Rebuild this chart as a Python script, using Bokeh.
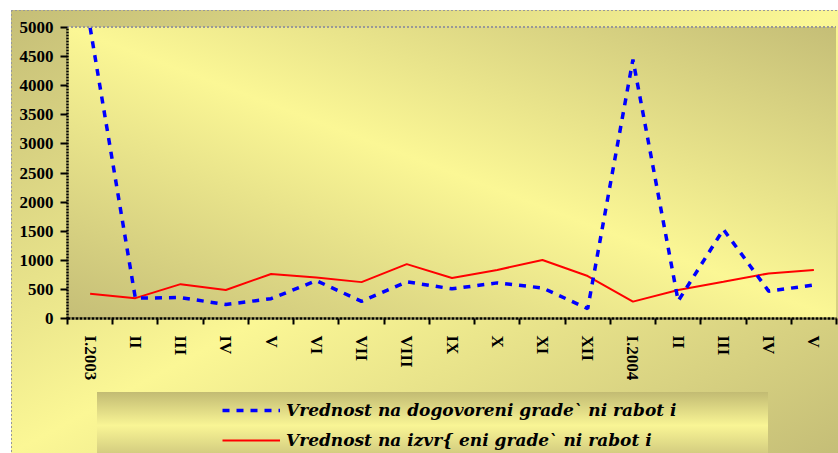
from bokeh.plotting import figure
from bokeh.layouts import column
from bokeh.models import Range1d, FixedTicker, Legend, LegendItem
from bokeh.embed import file_html
from bokeh.resources import INLINE

# ---- data ----
months = ["I.2003", "II", "III", "IV", "V", "VI", "VII", "VIII", "IX", "X", "XI", "XII",
          "I.2004", "II", "III", "IV", "V"]
dogovoreni = [5000, 350, 360, 240, 340, 650, 295, 630, 510, 612, 525, 170,
              4450, 300, 1530, 470, 575]
izvrseni = [425, 350, 590, 490, 765, 705, 625, 935, 695, 835, 1005, 730,
            290, 490, 630, 775, 835]
y_ticks = [0, 500, 1000, 1500, 2000, 2500, 3000, 3500, 4000, 4500, 5000]
label_dog = "Vrednost na dogovoreni grade` ni rabot i"
label_izv = "Vrednost na izvr{ eni grade` ni rabot i"

x = list(range(1, len(months) + 1))

BLUE = dict(line_color="#0000FF", line_width=3.5, line_dash="7 7")
RED = dict(line_color="#FF0000", line_width=2)

DARK = "#C5BE77"
LIGHT = "#FBF795"
bg = ", ".join([
    "repeating-linear-gradient(to right, #999 0 2px, transparent 2px 4px) 67px 26px / 769px 2px no-repeat",
    "repeating-linear-gradient(to right, #999 0 2px, transparent 2px 4px) 11px 10px / 827px 1px no-repeat",
    "repeating-linear-gradient(to bottom, #999 0 2px, transparent 2px 4px) 11px 10px / 1px 443px no-repeat",
    "linear-gradient(to bottom, #C2BB73, #F9F595 55%, #D4CD80) 97px 392px / 671px 61px no-repeat",
    f"linear-gradient(to top right, {DARK}, {LIGHT} 50%, {DARK}) 67px 27px / 769px 291px no-repeat",
    f"linear-gradient(to bottom right, {DARK}, {LIGHT} 50%, {DARK}) 11px 10px / 827px 443px no-repeat",
    "#ffffff",
])

p = figure(width=838, height=385, output_backend="svg", toolbar_location=None,
           x_range=Range1d(0.5, len(months) + 0.5), y_range=Range1d(0, 5000),
           min_border_left=67, min_border_right=2, min_border_top=27, min_border_bottom=67,
           background_fill_color=None, border_fill_color=None, outline_line_color=None)

p.xgrid.visible = False
p.ygrid.visible = False

# y axis
ya = p.yaxis[0]
ya.ticker = FixedTicker(ticks=y_ticks, minor_ticks=[])
ya.axis_line_width = 2.5
ya.axis_line_dash = "2 1"
ya.axis_line_color = "black"
ya.major_tick_line_width = 2
ya.major_tick_out = 7
ya.major_tick_in = 0
ya.minor_tick_line_color = None
ya.major_label_standoff = 7
ya.major_label_text_font = "Liberation Serif"
ya.major_label_text_font_style = "bold"
ya.major_label_text_font_size = "17px"
ya.major_label_text_color = "black"

# x axis
xa = p.xaxis[0]
xa.ticker = FixedTicker(ticks=x, minor_ticks=[i + 0.5 for i in range(0, len(months) + 1)])
xa.major_label_overrides = {i: m for i, m in zip(x, months)}
xa.major_tick_line_color = None
xa.major_tick_out = 0
xa.major_tick_in = 0
xa.minor_tick_line_color = "black"
xa.minor_tick_line_width = 2
xa.minor_tick_out = 6
xa.minor_tick_in = 0
xa.axis_line_width = 2.5
xa.axis_line_dash = "3 1"
xa.axis_line_color = "black"
xa.major_label_orientation = "vertical"
xa.major_label_standoff = 11
xa.major_label_text_font = "Liberation Serif"
xa.major_label_text_font_style = "bold"
xa.major_label_text_font_size = "17px"
xa.major_label_text_color = "black"

p.line(x, izvrseni, **RED)
p.line(x, dogovoreni, **BLUE)

# legend strip (second figure, transparent; its frame is aligned with the main frame)
lg = figure(width=838, height=68, output_backend="svg", toolbar_location=None,
            x_range=Range1d(-20, -19), y_range=Range1d(-20, -19),
            x_axis_type=None, y_axis_type=None,
            min_border_left=0, min_border_right=0, min_border_top=0, min_border_bottom=0,
            background_fill_color=None, border_fill_color=None, outline_line_color=None)
lg.xgrid.visible = False
lg.ygrid.visible = False
k_dog = lg.line(x, dogovoreni, **BLUE)
k_izv = lg.line(x, izvrseni, **RED)

legend = Legend(items=[LegendItem(label=label_dog, renderers=[k_dog]),
                       LegendItem(label=label_izv, renderers=[k_izv])],
                location=(155, 0), orientation="vertical",
                background_fill_alpha=0, border_line_color=None,
                padding=0, margin=0, spacing=4,
                label_height=26, glyph_height=26, glyph_width=58, label_standoff=6,
                label_text_font="DejaVu Serif", label_text_font_style="bold italic",
                label_text_font_size="17px", label_text_color="black")
lg.add_layout(legend)

layout = column(p, lg, spacing=0, styles={"background": bg})

open("out.html", "w").write(file_html(layout, INLINE))
